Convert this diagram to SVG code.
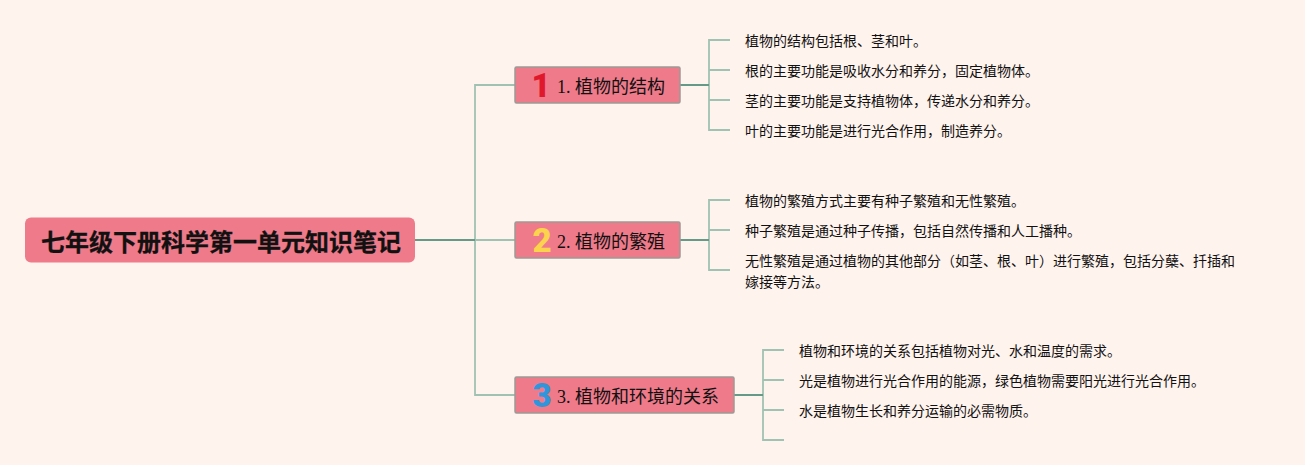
<svg xmlns="http://www.w3.org/2000/svg" width="1305" height="465" viewBox="0 0 1305 465">
<style>
text{font-family:"Noto Sans CJK SC","Liberation Sans",sans-serif;fill:#111}
.root{font-size:24px;font-weight:700;stroke:#111;stroke-width:.3}
.topic{font-size:18px;font-weight:400}
.topic .n{font-family:"Liberation Serif","Noto Sans CJK SC",serif}
.leaf{font-size:14px}
.box{fill:#ee7a8a;stroke:#9c9a96;stroke-width:1.5}
.icon{font-family:Roboto,"Liberation Sans",sans-serif;font-size:33px;font-weight:900}
.c1{fill:none;stroke:#a0c2b2;stroke-width:1.8}
.c2{fill:none;stroke:#669a88;stroke-width:2}
</style>
<rect width="1305" height="465" fill="#fff3ed"/>
<g id="connectors">
<path class="c1" d="M475 240V85H515M475 240V395H515M475 240H515"/>
<path class="c1" d="M709 85V40H730M709 85V70H730M709 85V100H730M709 85V130H730"/>
<path class="c1" d="M709 240V200H730M709 240V230H730M709 240V270H730"/>
<path class="c1" d="M763 395V350H784M763 395V380H784M763 395V410H784M763 395V440H784"/>
<path class="c2" d="M415 240H475M680 85H709M680 240H709M734 395H763"/>
</g>
<g id="root"><rect x="25" y="217.500" width="390" height="45" rx="6" fill="#ee7a8a"/><text class="root" x="41" y="251">七年级下册科学第一单元知识笔记</text></g>
<g id="topic1"><rect class="box" x="515" y="67" width="165" height="36" rx="1.500"/><text class="icon" x="541" y="97" text-anchor="middle" style="fill:#e0182d">1</text><text class="topic" x="557" y="92.500"><tspan class="n">1. </tspan>植物的结构</text></g>
<g id="topic2"><rect class="box" x="515" y="222" width="165" height="36" rx="1.500"/><text class="icon" x="542" y="252" text-anchor="middle" style="fill:#fcd34d">2</text><text class="topic" x="557" y="247.500"><tspan class="n">2. </tspan>植物的繁殖</text></g>
<g id="topic3"><rect class="box" x="515" y="377" width="219" height="36" rx="1.500"/><text class="icon" x="542" y="407" text-anchor="middle" style="fill:#2f96dc">3</text><text class="topic" x="557" y="402.500"><tspan class="n">3. </tspan>植物和环境的关系</text></g>
<g id="leaf1-1"><text class="leaf" x="745" y="46">植物的结构包括根、茎和叶。</text></g>
<g id="leaf1-2"><text class="leaf" x="745" y="76">根的主要功能是吸收水分和养分，固定植物体。</text></g>
<g id="leaf1-3"><text class="leaf" x="745" y="106">茎的主要功能是支持植物体，传递水分和养分。</text></g>
<g id="leaf1-4"><text class="leaf" x="745" y="136">叶的主要功能是进行光合作用，制造养分。</text></g>
<g id="leaf2-1"><text class="leaf" x="745" y="206">植物的繁殖方式主要有种子繁殖和无性繁殖。</text></g>
<g id="leaf2-2"><text class="leaf" x="745" y="236">种子繁殖是通过种子传播，包括自然传播和人工播种。</text></g>
<g id="leaf2-3"><text class="leaf" x="745" y="266">无性繁殖是通过植物的其他部分（如茎、根、叶）进行繁殖，包括分蘖、扦插和</text><text class="leaf" x="745" y="287">嫁接等方法。</text></g>
<g id="leaf3-1"><text class="leaf" x="799" y="356">植物和环境的关系包括植物对光、水和温度的需求。</text></g>
<g id="leaf3-2"><text class="leaf" x="799" y="386">光是植物进行光合作用的能源，绿色植物需要阳光进行光合作用。</text></g>
<g id="leaf3-3"><text class="leaf" x="799" y="416">水是植物生长和养分运输的必需物质。</text></g>
</svg>
